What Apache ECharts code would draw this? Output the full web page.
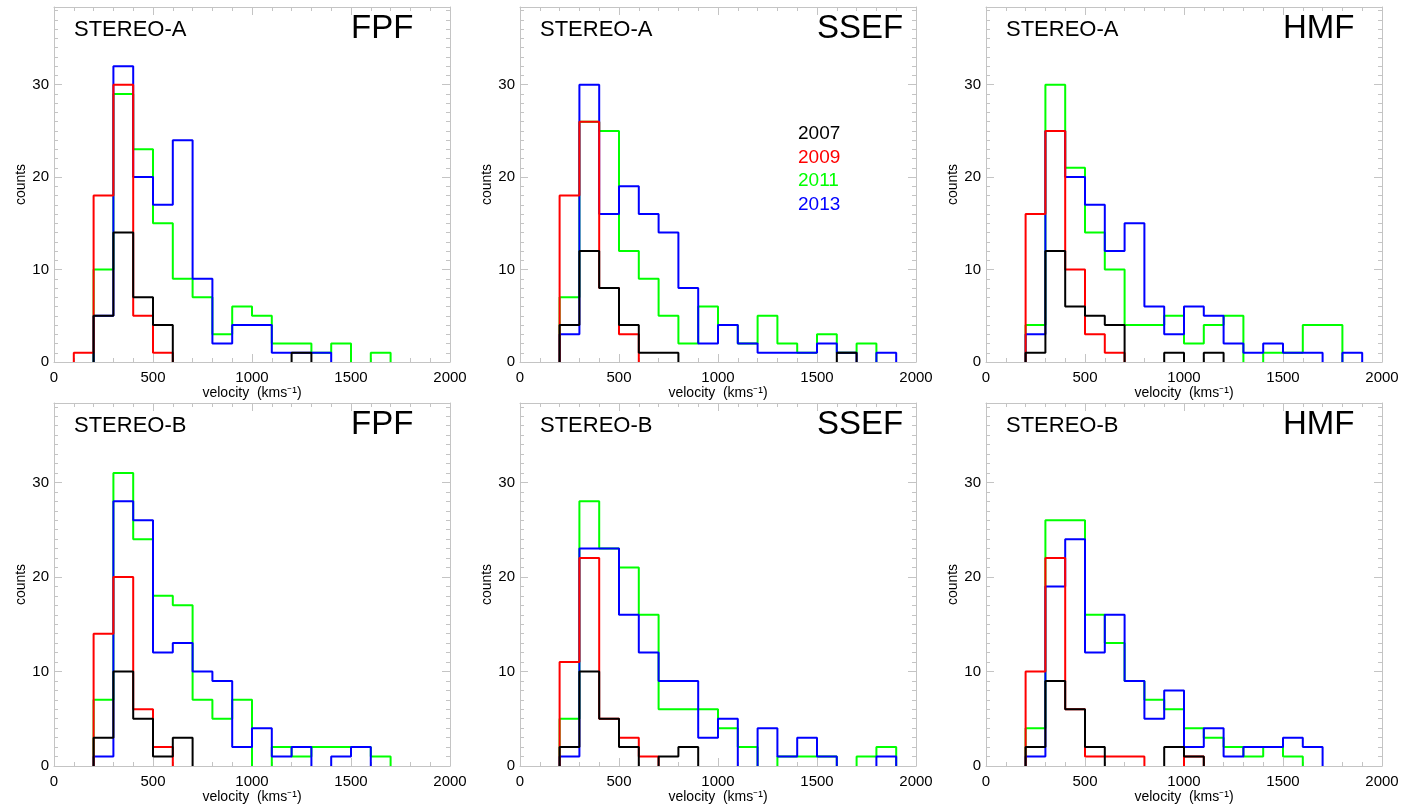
<!DOCTYPE html>
<html lang="en">
<head>
    <meta charset="utf-8">
    <title>velocity histograms</title>
    <script src="https://cdn.jsdelivr.net/npm/echarts@6/dist/echarts.min.js"></script>
    <style>
        html, body { margin: 0; padding: 0; background: #fff; }
        #main { width: 1401px; height: 806px; }
    </style>
</head>
<body>
<div id="main"></div>
<script>
    // bin edges (kms^-1), 100 wide
    var binEdges = [0, 100, 200, 300, 400, 500, 600, 700, 800, 900, 1000,
        1100, 1200, 1300, 1400, 1500, 1600, 1700, 1800, 1900, 2000];
    var xTicks = [0, 500, 1000, 1500, 2000];
    var yTicks = [0, 10, 20, 30];
    var years = ['2007', '2009', '2011', '2013'];

    // STEREO-A, FPF
    var aFPF2007 = [0, 0, 5, 14, 7, 4, 0, 0, 0, 0, 0, 0, 1, 0, 0, 0, 0, 0, 0, 0];
    var aFPF2009 = [0, 1, 18, 30, 5, 1, 0, 0, 0, 0, 0, 0, 0, 0, 0, 0, 0, 0, 0, 0];
    var aFPF2011 = [0, 0, 10, 29, 23, 15, 9, 7, 3, 6, 5, 2, 2, 1, 2, 0, 1, 0, 0, 0];
    var aFPF2013 = [0, 0, 5, 32, 20, 17, 24, 9, 2, 4, 4, 1, 1, 1, 0, 0, 0, 0, 0, 0];
    // STEREO-A, SSEF
    var aSSEF2007 = [0, 0, 4, 12, 8, 4, 1, 1, 0, 0, 0, 0, 0, 0, 0, 0, 1, 0, 0, 0];
    var aSSEF2009 = [0, 0, 18, 26, 8, 3, 0, 0, 0, 0, 0, 0, 0, 0, 0, 0, 0, 0, 0, 0];
    var aSSEF2011 = [0, 0, 7, 26, 25, 12, 9, 5, 2, 6, 4, 2, 5, 2, 1, 3, 1, 2, 0, 0];
    var aSSEF2013 = [0, 0, 3, 30, 16, 19, 16, 14, 8, 2, 4, 2, 1, 1, 1, 2, 1, 0, 1, 0];
    // STEREO-A, HMF
    var aHMF2007 = [0, 0, 1, 12, 6, 5, 4, 0, 0, 1, 0, 1, 0, 0, 0, 0, 0, 0, 0, 0];
    var aHMF2009 = [0, 0, 16, 25, 10, 3, 1, 0, 0, 0, 0, 0, 0, 0, 0, 0, 0, 0, 0, 0];
    var aHMF2011 = [0, 0, 4, 30, 21, 14, 10, 4, 4, 5, 2, 4, 5, 0, 1, 1, 4, 4, 0, 0];
    var aHMF2013 = [0, 0, 3, 25, 20, 17, 12, 15, 6, 3, 6, 5, 2, 1, 2, 1, 1, 0, 1, 0];
    // STEREO-B, FPF
    var bFPF2007 = [0, 0, 3, 10, 5, 1, 3, 0, 0, 0, 0, 0, 0, 0, 0, 0, 0, 0, 0, 0];
    var bFPF2009 = [0, 0, 14, 20, 6, 2, 0, 0, 0, 0, 0, 0, 0, 0, 0, 0, 0, 0, 0, 0];
    var bFPF2011 = [0, 0, 7, 31, 24, 18, 17, 7, 5, 7, 0, 2, 1, 2, 2, 2, 1, 0, 0, 0];
    var bFPF2013 = [0, 0, 1, 28, 26, 12, 13, 10, 9, 2, 4, 1, 2, 0, 1, 2, 0, 0, 0, 0];
    // STEREO-B, SSEF
    var bSSEF2007 = [0, 0, 2, 10, 5, 2, 0, 1, 2, 0, 0, 0, 0, 0, 0, 0, 0, 0, 0, 0];
    var bSSEF2009 = [0, 0, 11, 22, 5, 3, 1, 0, 0, 0, 0, 0, 0, 0, 0, 0, 0, 0, 0, 0];
    var bSSEF2011 = [0, 0, 5, 28, 23, 21, 16, 6, 6, 6, 4, 2, 0, 1, 1, 1, 0, 1, 2, 0];
    var bSSEF2013 = [0, 0, 1, 23, 23, 16, 12, 9, 9, 3, 5, 0, 4, 1, 3, 1, 0, 0, 1, 0];
    // STEREO-B, HMF
    var bHMF2007 = [0, 0, 2, 9, 6, 2, 0, 0, 0, 2, 1, 0, 0, 0, 0, 0, 0, 0, 0, 0];
    var bHMF2009 = [0, 0, 10, 22, 6, 1, 1, 1, 0, 0, 1, 0, 0, 0, 0, 0, 0, 0, 0, 0];
    var bHMF2011 = [0, 0, 4, 26, 26, 16, 13, 9, 7, 6, 4, 3, 2, 1, 2, 1, 0, 0, 0, 0];
    var bHMF2013 = [0, 0, 1, 19, 24, 12, 16, 9, 5, 8, 2, 4, 1, 2, 2, 3, 2, 0, 0, 0];

    var panels = [
        { craft: 'STEREO-A', type: 'FPF', data: [aFPF2007, aFPF2009, aFPF2011, aFPF2013] },
        { craft: 'STEREO-A', type: 'SSEF', data: [aSSEF2007, aSSEF2009, aSSEF2011, aSSEF2013] },
        { craft: 'STEREO-A', type: 'HMF', data: [aHMF2007, aHMF2009, aHMF2011, aHMF2013] },
        { craft: 'STEREO-B', type: 'FPF', data: [bFPF2007, bFPF2009, bFPF2011, bFPF2013] },
        { craft: 'STEREO-B', type: 'SSEF', data: [bSSEF2007, bSSEF2009, bSSEF2011, bSSEF2013] },
        { craft: 'STEREO-B', type: 'HMF', data: [bHMF2007, bHMF2009, bHMF2011, bHMF2013] }
    ];

    var colors = ['#000000', '#ff0000', '#00ff00', '#0000ff'];
    var drawOrder = [2, 3, 1, 0]; // green, blue, red, black on top
    var gray = '#c4c4c4';
    var font = 'Liberation Sans';

    var colLeft = [54, 520, 986];
    var rowTop = [7, 403];
    var rowHeight = [355, 363];
    var plotWidth = 396;

    // split a histogram into runs of non-zero bins, each as a step line
    function stepRuns(counts) {
        var runs = [];
        var cur = null;
        for (var i = 0; i < counts.length; i++) {
            if (counts[i] > 0) {
                if (!cur) {
                    cur = [[binEdges[i], 0]];
                }
                cur.push([binEdges[i], counts[i]]);
            } else if (cur) {
                cur.push([binEdges[i], 0]);
                runs.push(cur);
                cur = null;
            }
        }
        if (cur) {
            cur.push([binEdges[counts.length], 0]);
            runs.push(cur);
        }
        return runs;
    }

    function plain(v) { return String(v); }

    var grids = [], xAxes = [], yAxes = [], series = [], graphics = [];

    panels.forEach(function (p, g) {
        var col = g % 3, row = Math.floor(g / 3);
        var left = colLeft[col], top = rowTop[row], h = rowHeight[row];
        grids.push({ left: left, top: top, width: plotWidth, height: h, containLabel: false, outerBoundsMode: 'none' });

        ['bottom', 'top'].forEach(function (pos) {
            xAxes.push({
                type: 'value', gridIndex: g, position: pos, min: 0, max: 2000, interval: 500,
                axisLine: { show: true, onZero: false, lineStyle: { color: gray, width: 1 } },
                axisTick: { show: true, inside: true, length: 8, lineStyle: { color: gray } },
                minorTick: { show: true, splitNumber: 5, length: 4, lineStyle: { color: gray } },
                splitLine: { show: false },
                axisLabel: {
                    show: pos === 'bottom', customValues: xTicks, formatter: plain,
                    color: '#000', fontSize: 15, fontFamily: font, margin: 8
                },
                name: pos === 'bottom' ? 'velocity  (kms\u207B\u00B9)' : '',
                nameLocation: 'middle', nameGap: 24,
                nameTextStyle: { color: '#000', fontSize: 14, fontFamily: font }
            });
        });
        ['left', 'right'].forEach(function (pos) {
            yAxes.push({
                type: 'value', gridIndex: g, position: pos, min: 0, max: 38.4, interval: 10,
                axisLine: { show: true, onZero: false, lineStyle: { color: gray, width: 1 } },
                axisTick: { show: true, inside: true, length: 8, customValues: yTicks, lineStyle: { color: gray } },
                minorTick: { show: true, splitNumber: 10, length: 4, lineStyle: { color: gray } },
                splitLine: { show: false },
                axisLabel: {
                    show: pos === 'left', customValues: yTicks, formatter: plain,
                    color: '#000', fontSize: 15, fontFamily: font, margin: 5
                },
                name: pos === 'left' ? 'counts' : '',
                nameLocation: 'middle', nameGap: 26,
                nameTextStyle: { color: '#000', fontSize: 14, fontFamily: font }
            });
        });

        drawOrder.forEach(function (k) {
            stepRuns(p.data[k]).forEach(function (run) {
                series.push({
                    type: 'line', name: years[k], xAxisIndex: g * 2, yAxisIndex: g * 2,
                    step: 'end', data: run, showSymbol: false, symbol: 'none',
                    lineStyle: { color: colors[k], width: 2 }, clip: false,
                    silent: true
                });
            });
        });

        graphics.push({
            type: 'text', left: left + 20, top: top + 12,
            style: { text: p.craft, fill: '#000', font: '22px ' + font }
        });
        graphics.push({
            type: 'text', left: left + 297, top: top + 5,
            style: { text: p.type, fill: '#000', font: '33px ' + font }
        });
    });

    // year legend in the STEREO-A SSEF panel
    years.forEach(function (y, k) {
        graphics.push({
            type: 'text', left: colLeft[1] + 278, top: rowTop[0] + 117 + k * 23.8,
            style: { text: y, fill: colors[k], font: '19px ' + font }
        });
    });

    var chart = echarts.init(document.getElementById('main'), null, { renderer: 'canvas' });
    chart.setOption({
        animation: false,
        backgroundColor: '#fff',
        grid: grids,
        xAxis: xAxes,
        yAxis: yAxes,
        series: series,
        graphic: graphics
    });
</script>
</body>
</html>
